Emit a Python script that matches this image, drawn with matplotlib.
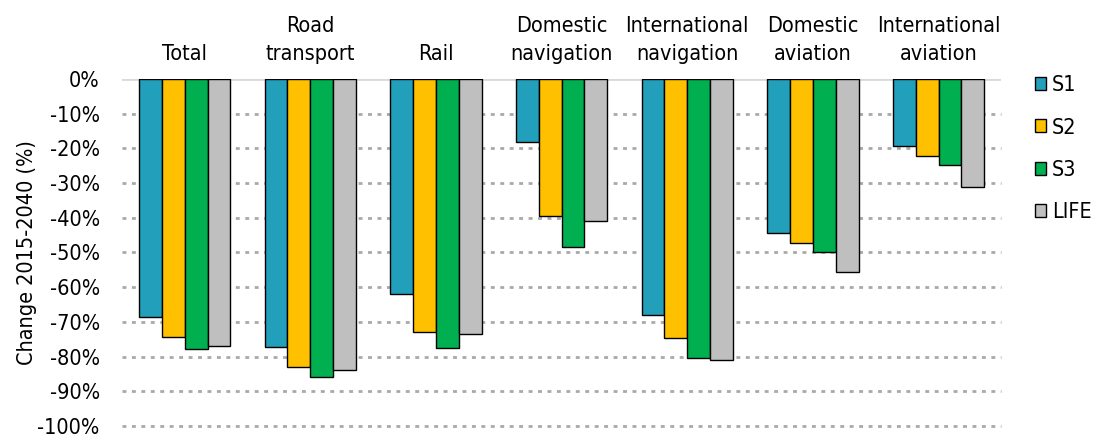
import matplotlib.pyplot as plt
import numpy as np

plt.rcParams['font.family'] = ['DejaVu Sans']
plt.rcParams['font.stretch'] = 'condensed'

categories = ['Total', 'Road\ntransport', 'Rail', 'Domestic\nnavigation',
              'International\nnavigation', 'Domestic\naviation',
              'International\naviation']
scenarios = ['S1', 'S2', 'S3', 'LIFE']
s1 = [-68.6, -77.2, -62.1, -18.2, -68.1, -44.3, -19.4]
s2 = [-74.3, -82.9, -72.9, -39.5, -74.6, -47.3, -22.1]
s3 = [-77.8, -85.9, -77.5, -48.3, -80.4, -49.8, -24.8]
life = [-77.0, -84.0, -73.5, -40.8, -81.0, -55.5, -31.2]
colors = ['#22a0bb', '#ffc000', '#00b050', '#bfbfbf']
yticks = list(range(0, -101, -10))

fs = 15.5

fig = plt.figure(figsize=(10.98, 4.36), dpi=100)
ax = fig.add_axes([0.111, 0.023, 0.801, 0.796])

x = np.arange(len(categories))
w = 0.182
for i, (vals, c, lab) in enumerate(zip([s1, s2, s3, life], colors, scenarios)):
    ax.bar(x + (i - 1.5) * w, vals, w, color=c, edgecolor='black',
           linewidth=1.0, label=lab, zorder=3)

# dotted grid below zero, solid zero line
for t in yticks[1:]:
    ax.axhline(t, color='#a9a9a9', linestyle=(0, (1.4, 2.0)), linewidth=2.0,
               zorder=1, clip_on=False)
ax.axhline(0, color='#d9d9d9', linewidth=2, zorder=2)

ax.set_ylim(-100, 0)
ax.set_xlim(-0.5, len(categories) - 0.5)
ax.set_yticks(yticks)
ax.set_yticklabels([f'{t}%' for t in yticks], fontsize=fs)
ax.set_ylabel('Change 2015-2040 (%)', fontsize=fs, labelpad=0)

ax.xaxis.tick_top()
ax.set_xticks(x)
ax.set_xticklabels(categories, fontsize=fs, linespacing=1.45)
ax.tick_params(axis='x', length=0, pad=11)
ax.tick_params(axis='y', length=0, pad=16)

for s in ax.spines.values():
    s.set_visible(False)

ax.legend(loc='upper left', bbox_to_anchor=(1.028, 1.035), frameon=False,
          fontsize=fs, handlelength=0.55, handleheight=0.55,
          handletextpad=0.25, labelspacing=1.03, borderaxespad=0)

fig.savefig('out.png', dpi=100)
